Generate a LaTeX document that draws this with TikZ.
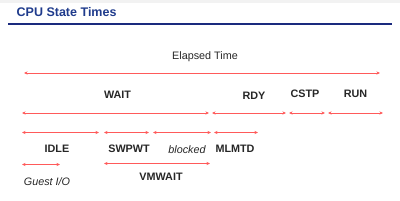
\documentclass[tikz,border=0pt]{standalone}
\usepackage{fontspec}
\setmainfont{Liberation Sans}
\usetikzlibrary{arrows.meta}
\definecolor{titleblue}{HTML}{1F3B8C}
\definecolor{rulenavy}{HTML}{1A2A7E}
\definecolor{spanred}{HTML}{FF5A5A}
\definecolor{labelgray}{HTML}{262626}

\begin{document}
\begin{tikzpicture}[x=1pt,y=-1pt,font=\fontsize{10.8}{12}\selectfont,
  span/.style={spanred,line width=0.8pt,{Stealth[length=3.6pt,width=3.2pt]}-{Stealth[length=3.6pt,width=3.2pt]}},
  state/.style={text=labelgray,font=\fontsize{10.8}{12}\selectfont\bfseries,inner sep=0pt},
  sub/.style={text=labelgray,font=\fontsize{10.8}{12}\selectfont\itshape,inner sep=0pt}]
  \useasboundingbox (0,0) rectangle (400,201);
  % Header band, title and rule
  \fill[gray!10] (0,0) rectangle (400,2.5);
  \node[anchor=west,inner sep=0pt,text=titleblue,font=\fontsize{12.5}{14}\selectfont\bfseries]
    (title) at (16.5,12) {CPU State Times};
  \draw[rulenavy,line width=2pt] (8,24)--(392,24);

  % Elapsed time
  \node[inner sep=0pt,text=labelgray] (elapsed) at (205,57) {Elapsed Time};
  \draw[span] (24,73)--(380,73);

  % Second row: WAIT, RDY, CSTP, RUN
  \foreach \a/\b in {22/209,212/286,289/325,328/383}
    \draw[span] (\a,113)--(\b,113);
  \node[state] (wait) at (117.5,94.5) {WAIT};
  \node[state] (rdy) at (254,96) {RDY};
  \node[state] (cstp) at (305,94) {CSTP};
  \node[state] (run) at (355.5,94) {RUN};

  % Third row: parts of WAIT
  \foreach \a/\b in {22/99,104/149,153/211,214/258}
    \draw[span] (\a,132.5)--(\b,132.5);
  \node[state] (idle) at (57,149) {IDLE};
  \node[state] (swpwt) at (129,149) {SWPWT};
  \node[sub] (blocked) at (187,150) {blocked};
  \node[state] (mlmtd) at (235,149) {MLMTD};

  % Fourth row
  \draw[span] (22,164.5)--(60,164.5);
  \draw[span] (104,163.5)--(210,163.5);
  \node[sub] (guestio) at (47,182) {Guest I/O};
  \node[state] (vmwait) at (161,177) {VMWAIT};
\end{tikzpicture}
\end{document}
